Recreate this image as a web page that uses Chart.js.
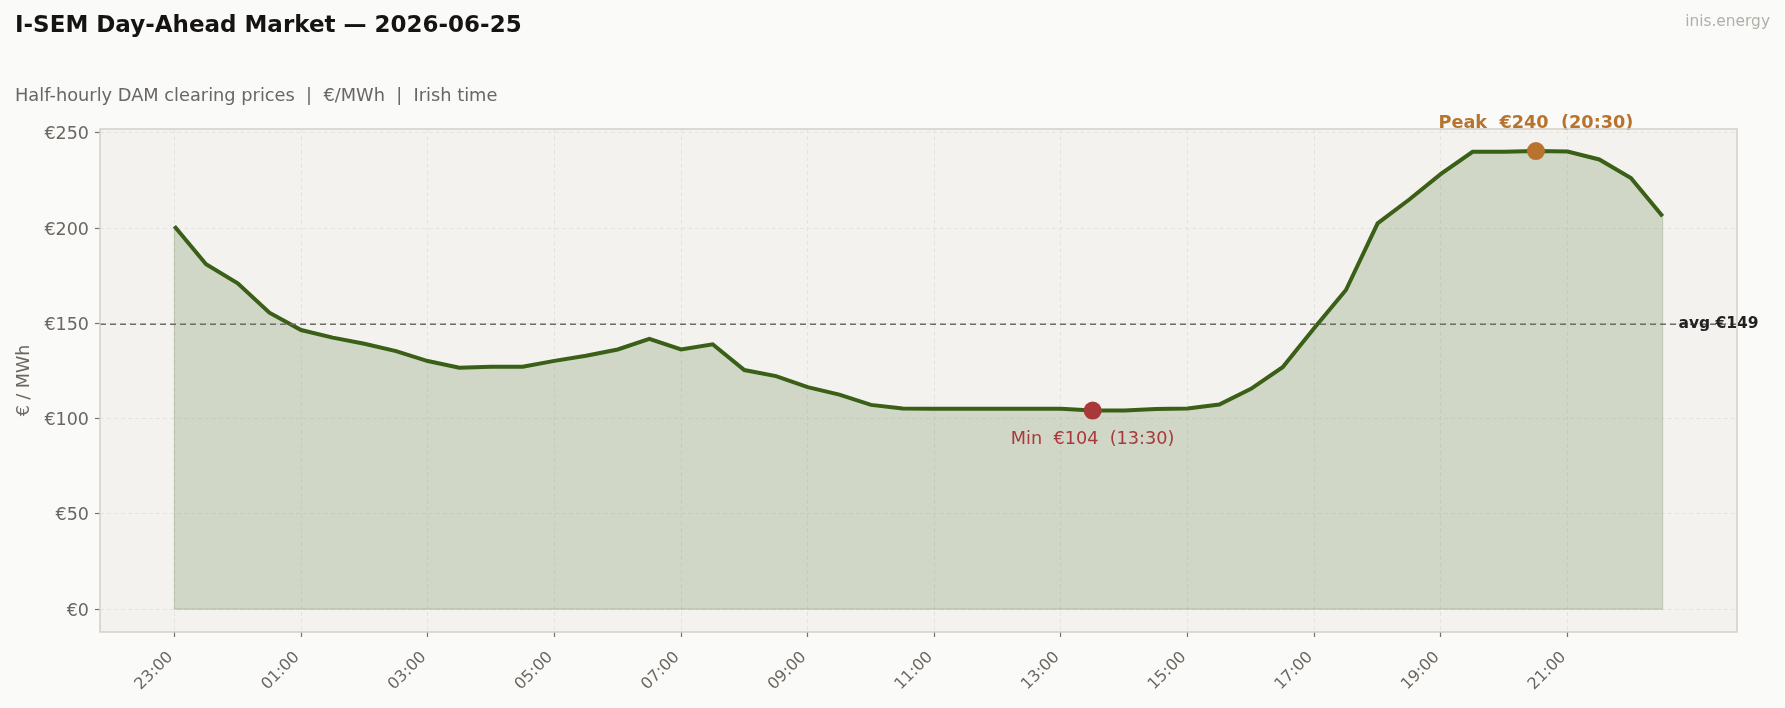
<!DOCTYPE html>
<html>
<head>
<meta charset="utf-8">
<title>I-SEM DAM</title>
<script src="https://cdn.jsdelivr.net/npm/chart.js@4.4.1/dist/chart.umd.min.js"></script>
<style>
  html, body { margin: 0; padding: 0; background: #fafaf8; }
  canvas { display: block; }
</style>
</head>
<body>
<canvas id="damChart" width="1785" height="708"></canvas>
<script>
// half-hourly periods, Irish time (trading day starts 23:00)
const times = [
    '23:00', '23:30', '00:00', '00:30', '01:00', '01:30', '02:00', '02:30',
    '03:00', '03:30', '04:00', '04:30', '05:00', '05:30', '06:00', '06:30',
    '07:00', '07:30', '08:00', '08:30', '09:00', '09:30', '10:00', '10:30',
    '11:00', '11:30', '12:00', '12:30', '13:00', '13:30', '14:00', '14:30',
    '15:00', '15:30', '16:00', '16:30', '17:00', '17:30', '18:00', '18:30',
    '19:00', '19:30', '20:00', '20:30', '21:00', '21:30', '22:00', '22:30'
];

// DAM clearing prices, €/MWh
const prices = [
    201.0, 181.0, 171.0, 155.6, 146.5, 142.5, 139.3, 135.4,
    130.2, 126.7, 127.2, 127.2, 130.3, 133.0, 136.3, 141.8,
    136.3, 139.0, 125.5, 122.3, 116.5, 112.6, 107.2, 105.3,
    105.2, 105.2, 105.2, 105.2, 105.2, 104.2, 104.3, 105.0,
    105.3, 107.4, 115.6, 127.0, 147.5, 167.5, 202.5, 215.0,
    228.4, 240.0, 240.1, 240.4, 240.2, 236.0, 226.3, 206.2
];

const xTickIdx = [0, 4, 8, 12, 16, 20, 24, 28, 32, 36, 40, 44];
const yTicks = [0, 50, 100, 150, 200, 250];

const FONT = "'DejaVu Sans', sans-serif";
const GREEN = '#3a5f17';
const MIN_RED = '#a8383a';
const PEAK_ORANGE = '#b8732e';
const GREY = '#6b6661';

const avg = prices.reduce((a, b) => a + b, 0) / prices.length;
const minVal = Math.min(...prices);
const maxVal = Math.max(...prices);
const minIdx = prices.indexOf(minVal);
const peakIdx = prices.indexOf(maxVal);

const decor = {
    id: 'decor',
    beforeDraw(chart) {
        const { ctx, chartArea: a } = chart;
        ctx.save();
        ctx.fillStyle = '#fafaf8';
        ctx.fillRect(0, 0, chart.width, chart.height);
        ctx.fillStyle = '#f3f2ee';
        ctx.fillRect(a.left, a.top, a.right - a.left, a.bottom - a.top);

        ctx.textBaseline = 'middle';
        ctx.fillStyle = '#161412';
        ctx.font = 'bold 23px ' + FONT;
        ctx.fillText('I-SEM Day-Ahead Market \u2014 2026-06-25', 15, 26);

        ctx.fillStyle = GREY;
        ctx.font = '17.8px ' + FONT;
        ctx.fillText('Half-hourly DAM clearing prices  |  \u20ac/MWh  |  Irish time', 15, 96);

        ctx.fillStyle = '#b3afaa';
        ctx.font = '15.4px ' + FONT;
        ctx.textAlign = 'right';
        ctx.fillText('inis.energy', 1770, 22);

        // y axis title
        ctx.save();
        ctx.translate(24, (a.top + a.bottom) / 2);
        ctx.rotate(-Math.PI / 2);
        ctx.textAlign = 'center';
        ctx.fillStyle = GREY;
        ctx.font = '17.5px ' + FONT;
        ctx.fillText('\u20ac / MWh', 0, 0);
        ctx.restore();
        ctx.restore();
    },
    afterDatasetsDraw(chart) {
        const { ctx, chartArea: a, scales: { x, y } } = chart;
        ctx.save();

        // thin edge of the filled area
        ctx.strokeStyle = 'rgba(58,95,23,0.22)';
        ctx.lineWidth = 1.2;
        ctx.beginPath();
        ctx.moveTo(x.getPixelForValue(0), y.getPixelForValue(prices[0]));
        ctx.lineTo(x.getPixelForValue(0), y.getPixelForValue(0));
        ctx.lineTo(x.getPixelForValue(prices.length - 1), y.getPixelForValue(0));
        ctx.lineTo(x.getPixelForValue(prices.length - 1), y.getPixelForValue(prices[prices.length - 1]));
        ctx.stroke();

        // average line
        const ay = y.getPixelForValue(avg);
        ctx.strokeStyle = '#6f6b67';
        ctx.lineWidth = 1.5;
        ctx.setLineDash([6, 4]);
        ctx.beginPath();
        ctx.moveTo(a.left, ay);
        ctx.lineTo(a.right, ay);
        ctx.stroke();
        ctx.setLineDash([]);

        ctx.textBaseline = 'middle';
        ctx.font = 'bold 15.5px ' + FONT;
        ctx.fillStyle = '#222';
        ctx.fillText('avg \u20ac' + Math.round(avg), x.getPixelForValue(prices.length - 0.5), ay);

        // min / peak labels
        ctx.textAlign = 'center';
        ctx.font = '17.7px ' + FONT;
        ctx.fillStyle = MIN_RED;
        ctx.fillText('Min  \u20ac' + Math.round(minVal) + '  (' + times[minIdx] + ')',
            x.getPixelForValue(minIdx), y.getPixelForValue(minVal) + 29);

        ctx.font = 'bold 17.7px ' + FONT;
        ctx.fillStyle = PEAK_ORANGE;
        ctx.fillText('Peak  \u20ac' + Math.round(maxVal) + '  (' + times[peakIdx] + ')',
            x.getPixelForValue(peakIdx), y.getPixelForValue(maxVal) - 28);
        ctx.restore();
    },
    afterDraw(chart) {
        const { ctx, chartArea: a } = chart;
        ctx.save();
        ctx.strokeStyle = '#d3cfc8';
        ctx.lineWidth = 1.5;
        ctx.strokeRect(a.left, a.top, a.right - a.left, a.bottom - a.top);
        ctx.restore();
    }
};

const ctx = document.getElementById('damChart').getContext('2d');

new Chart(ctx, {
    type: 'line',
    data: {
        datasets: [
            {
                data: prices.map((v, i) => ({ x: i, y: v })),
                borderColor: GREEN,
                borderWidth: 4,
                backgroundColor: 'rgba(58,95,23,0.18)',
                fill: 'origin',
                tension: 0,
                pointRadius: 0,
                order: 3
            },
            {
                data: [{ x: minIdx, y: minVal }],
                showLine: false,
                pointRadius: 9,
                pointBorderWidth: 0,
                pointBackgroundColor: MIN_RED,
                order: 1
            },
            {
                data: [{ x: peakIdx, y: maxVal }],
                showLine: false,
                pointRadius: 9,
                pointBorderWidth: 0,
                pointBackgroundColor: PEAK_ORANGE,
                order: 1
            }
        ]
    },
    options: {
        responsive: false,
        animation: false,
        events: [],
        layout: { padding: { top: 129, right: 48, left: 0, bottom: 0 } },
        plugins: {
            legend: { display: false },
            tooltip: { enabled: false }
        },
        scales: {
            x: {
                type: 'linear',
                min: -2.35,
                max: 49.35,
                afterBuildTicks: s => { s.ticks = xTickIdx.map(v => ({ value: v })); },
                afterFit: s => { s.height = 76; },
                grid: { color: '#e6e3de', tickLength: 5, tickColor: '#77726d', tickWidth: 1.2 },
                border: { display: false, dash: [4, 3] },
                ticks: {
                    autoSkip: false,
                    maxRotation: 45,
                    minRotation: 45,
                    padding: 11,
                    labelOffset: -4,
                    color: GREY,
                    font: { family: FONT, size: 16 },
                    callback: v => times[v]
                }
            },
            y: {
                min: -12,
                max: 252,
                afterBuildTicks: s => { s.ticks = yTicks.map(v => ({ value: v })); },
                afterFit: s => { s.width = 100; },
                grid: { color: '#e6e3de', tickLength: 5, tickColor: '#77726d', tickWidth: 1.2 },
                border: { display: false, dash: [4, 3] },
                ticks: {
                    padding: 6,
                    labelOffset: 2,
                    color: GREY,
                    font: { family: FONT, size: 17.5 },
                    callback: v => '\u20ac' + v
                }
            }
        }
    },
    plugins: [decor]
});
</script>
</body>
</html>
